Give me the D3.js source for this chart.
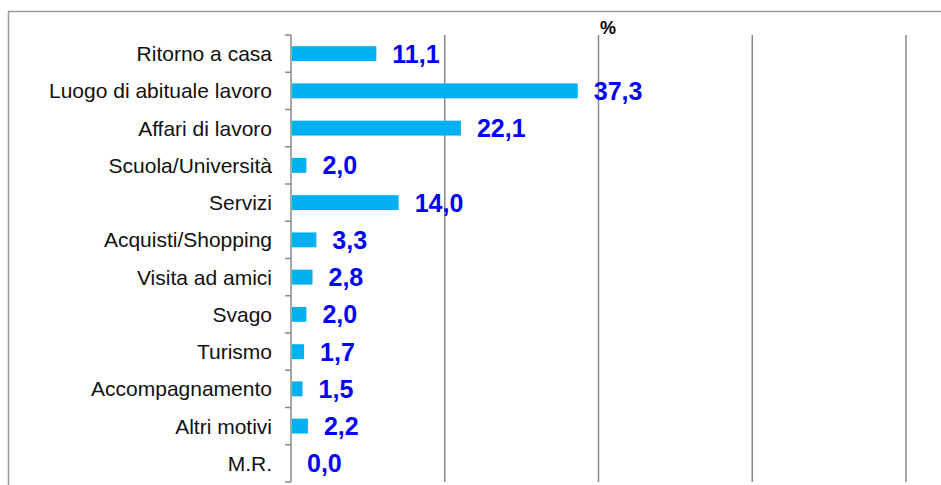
<!DOCTYPE html>
<html>
<head>
<meta charset="utf-8">
<script src="https://cdn.jsdelivr.net/npm/d3@7"></script>
<style>
  body { margin: 0; background: #fff; }
  svg { display: block; font-family: Arial, "Liberation Sans", sans-serif; }
</style>
</head>
<body>
<div id="chart"></div>
<script>
const categories = ["Ritorno a casa", "Luogo di abituale lavoro", "Affari di lavoro", "Scuola/Università",
  "Servizi", "Acquisti/Shopping", "Visita ad amici", "Svago", "Turismo", "Accompagnamento",
  "Altri motivi", "M.R."];
const values = [11.1, 37.3, 22.1, 2.0, 14.0, 3.3, 2.8, 2.0, 1.7, 1.5, 2.2, 0.0];
const gridTicks = [20, 40, 60, 80];

const width = 941,
    height = 485,
    margin = ({ top: 35, right: 35, bottom: 3, left: 291 });

const svg = d3.select("#chart")
    .append("svg")
    .attr("width", width)
    .attr("height", height);

// outer frame (cut off at right and bottom)
svg.append("path")
    .attr("d", "M8.5," + height + "V11.5H" + width)
    .attr("fill", "none")
    .attr("stroke", "#999")
    .attr("stroke-width", 1.5);

let x = d3.scaleLinear().domain([0, 80]).range([margin.left, width - margin.right]);
let y = d3.scaleBand().domain(categories)
    .range([margin.top, height - margin.bottom])
    .paddingInner(0.6).paddingOuter(0.3);

// grid
svg.selectAll(".grid")
    .data(gridTicks)
    .enter()
    .append("line")
    .attr("x1", d => x(d)).attr("x2", d => x(d))
    .attr("y1", margin.top).attr("y2", height - margin.bottom)
    .attr("stroke", "#888")
    .attr("stroke-width", 1.5);

// axis line with ticks at band boundaries
const step = y.step();
const axis = svg.append("g");
axis.append("line")
    .attr("x1", x(0)).attr("x2", x(0))
    .attr("y1", margin.top).attr("y2", height - margin.bottom)
    .attr("stroke", "#888").attr("stroke-width", 1.5);
axis.selectAll(".tk")
    .data(d3.range(categories.length + 1))
    .enter()
    .append("line")
    .attr("x1", x(0) - 6).attr("x2", x(0))
    .attr("y1", i => margin.top + i * step).attr("y2", i => margin.top + i * step)
    .attr("stroke", "#888").attr("stroke-width", 1.5);

axis.selectAll(".lab")
    .data(categories)
    .enter()
    .append("text")
    .attr("x", 272)
    .attr("y", d => y(d) + y.bandwidth() / 2)
    .attr("dy", "0.36em")
    .attr("text-anchor", "end")
    .attr("font-size", 21)
    .attr("fill", "#111")
    .text(d => d);

// bars
svg.selectAll(".bar")
    .data(values)
    .enter()
    .append("rect")
    .attr("x", x(0) + 1)
    .attr("y", (d, i) => y(categories[i]))
    .attr("width", d => Math.max(0, x(d) - x(0) - 1))
    .attr("height", y.bandwidth())
    .attr("fill", "#00B0F0");

// value labels
svg.selectAll(".val")
    .data(values)
    .enter()
    .append("text")
    .attr("x", d => x(d) + 16)
    .attr("y", (d, i) => y(categories[i]) + y.bandwidth() / 2)
    .attr("dy", "0.36em")
    .attr("font-size", 25)
    .attr("font-weight", "bold")
    .attr("fill", "#0000FF")
    .text(d => d.toFixed(1).replace(".", ","));

svg.append("text")
    .attr("x", 600)
    .attr("y", 34)
    .attr("font-size", 18)
    .attr("font-weight", "bold")
    .text("%");
</script>
</body>
</html>
